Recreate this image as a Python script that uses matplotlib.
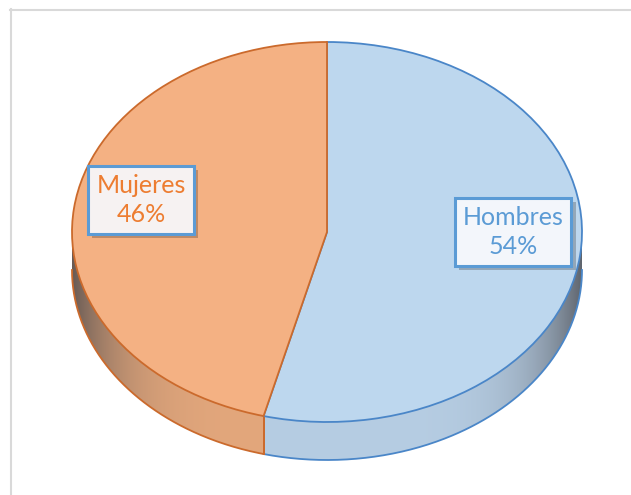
import numpy as np
import matplotlib
matplotlib.use("Agg")
import matplotlib.pyplot as plt
import matplotlib.patheffects as pe
from matplotlib.lines import Line2D
from matplotlib.patches import Polygon

plt.rcParams['font.family'] = ['Lato', 'DejaVu Sans']

# data
labels = ["Hombres", "Mujeres"]
values = [54, 46]

top_colors = ["#BDD7EE", "#F4B183"]
side_colors = ["#B6CDE3", "#E3A77C"]
edge_colors = ["#4A86C8", "#CB6A2C"]
text_colors = ["#5B9BD5", "#ED7D31"]
box_faces = ["#F3F6FB", "#F6F2F2"]

W, H = 631, 495
# pie geometry in pixels
cx, cy, rx, ry, depth_px = 327, 232, 255, 190, 38

fig = plt.figure(figsize=(W / 100, H / 100), dpi=100)
ax = fig.add_axes([0, 0, 1, 1])


def px(x, y):
    # pixel position -> pie units
    return (x - cx) / rx, (cy - y) / ry


d = depth_px / ry
xlim = ((0 - cx) / rx, (W - cx) / rx)
ylim = ((cy - H) / ry, cy / ry)

# slice boundaries (start at top, clockwise)
fracs = np.array(values) / np.sum(values)
bounds = 90 - 360 * np.concatenate([[0], np.cumsum(fracs)])


def shade(color, xs):
    c = np.array(matplotlib.colors.to_rgb(color))
    k = (np.abs(xs) ** 5)[:, None] * 0.78
    dark = np.array([0.27, 0.27, 0.29])
    return c * (1 - k) + dark * k


# side walls (front half only)
for i in range(len(values)):
    lo = np.deg2rad(bounds[i + 1]) % (2 * np.pi)
    hi = np.deg2rad(bounds[i]) % (2 * np.pi)
    if hi == 0 or hi < lo:
        hi += 2 * np.pi
    seg_lo, seg_hi = max(lo, np.pi), min(hi, 2 * np.pi)
    if seg_hi <= seg_lo:
        continue
    phis = np.linspace(seg_lo, seg_hi, 300)
    top = np.column_stack([np.cos(phis), np.sin(phis)])
    bot = np.column_stack([np.cos(phis), np.sin(phis) - d])[::-1]
    poly = Polygon(np.vstack([top, bot]), closed=True, fc='none', ec='none', zorder=1)
    ax.add_patch(poly)
    x0, x1 = np.cos(phis).min(), np.cos(phis).max()
    y0, y1 = (np.sin(phis) - d).min(), np.sin(phis).max()
    gx = np.linspace(x0, x1, 400)
    img = shade(side_colors[i], gx)[None, :, :]
    im = ax.imshow(img, extent=[x0, x1, y0, y1], aspect='auto', origin='lower',
                   interpolation='bilinear', zorder=1)
    im.set_clip_path(poly)
    ax.plot(np.cos(phis), np.sin(phis) - d, color=edge_colors[i], lw=1.3, zorder=2)
    for p in (seg_lo, seg_hi):
        if np.pi < p % (2 * np.pi) < 2 * np.pi and abs(np.cos(p)) < 0.99:
            ax.plot([np.cos(p), np.cos(p)], [np.sin(p), np.sin(p) - d],
                    color=edge_colors[1], lw=1.3, zorder=2)

# top face
wedges, _ = ax.pie(values, colors=top_colors, startangle=90, counterclock=False,
                   radius=1, center=(0, 0), wedgeprops=dict(linewidth=1.3))
for w, ec in zip(wedges, edge_colors):
    w.set_edgecolor(ec)
    w.set_zorder(3)

ax.set_aspect('auto')
ax.set_xlim(*xlim)
ax.set_ylim(*ylim)
ax.axis('off')

# data labels
label_pos = [px(513, 232), px(141, 200)]
for i, (lab, v) in enumerate(zip(labels, values)):
    x, y = label_pos[i]
    t = ax.text(x, y, f"{lab}\n{v}%", ha='center', va='center', fontsize=18,
                color=text_colors[i], linespacing=1.3, zorder=5,
                bbox=dict(boxstyle='square,pad=0.32', fc=box_faces[i],
                          ec='#5B9BD5', lw=2.2))
    t.get_bbox_patch().set_path_effects(
        [pe.SimplePatchShadow(offset=(3, -3), alpha=0.22, shadow_rgbFace='black'),
         pe.Normal()])

# chart area border (left and top visible)
fig.add_artist(Line2D([10.5 / W, 10.5 / W], [0, 1 - 9 / H], transform=fig.transFigure,
                      color='#D9D9D9', lw=1.5))
fig.add_artist(Line2D([10 / W, 1], [1 - 9.5 / H, 1 - 9.5 / H], transform=fig.transFigure,
                      color='#D9D9D9', lw=1.5))

fig.savefig("out.png", dpi=100, facecolor='white')
